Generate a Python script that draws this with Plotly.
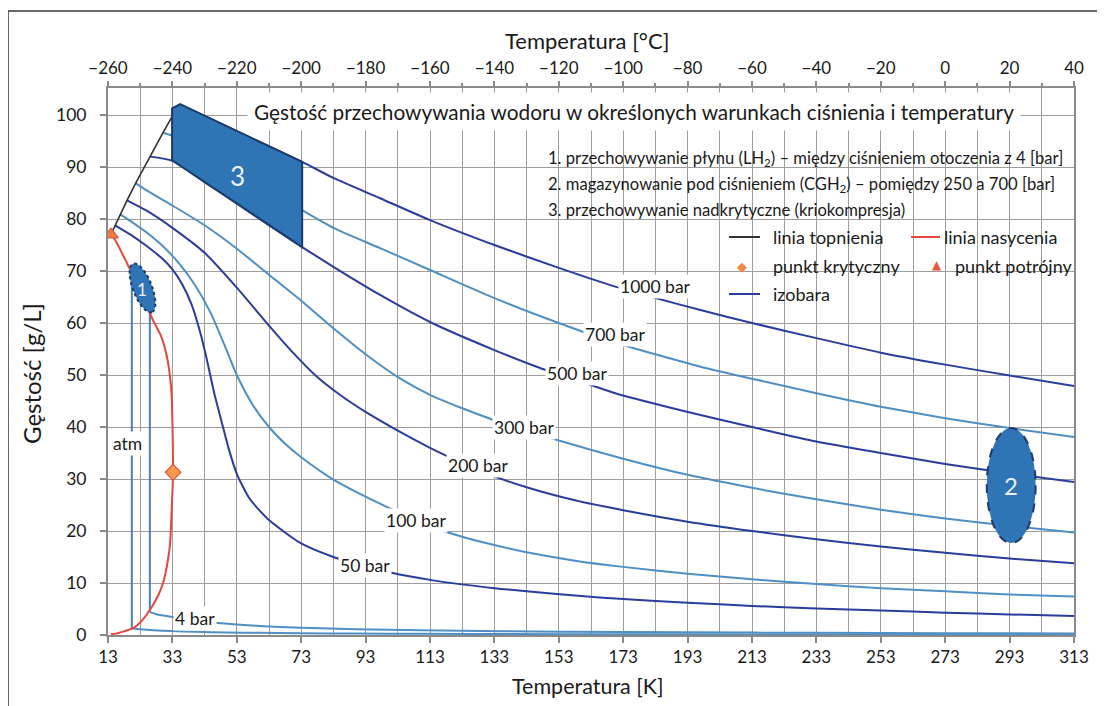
import math
import plotly.graph_objects as go

# ---------------- data ----------------
# isobars: temperature [K] and density [g/L]
T_1000 = [34.9, 45, 55, 65, 73.3, 83, 97.5, 113, 133, 153, 170, 183, 197, 213, 233, 253, 273, 293, 313]
R_1000 = [101.9, 99.2, 96.3, 93.4, 91.0, 87.9, 84.0, 79.8, 75.0, 70.6, 67.1, 64.8, 62.5, 60.0, 57.1, 54.3, 52.0, 49.9, 47.9]

T_700 = [30.1, 33, 43, 53, 63, 73.3, 83, 97.5, 113, 133, 153, 170, 197, 213, 233, 253, 273, 293, 313]
R_700 = [96.6, 96.0, 93.0, 89.5, 85.7, 81.7, 78.3, 74.4, 70.2, 64.8, 60.0, 56.3, 51.6, 49.3, 46.5, 43.9, 41.7, 39.8, 38.1]

T_500 = [26.0, 33, 43, 53, 63, 73.3, 83, 97.5, 113, 133, 147, 160, 170, 197, 213, 233, 253, 273, 293, 313]
R_500 = [92.0, 91.2, 87.1, 83.0, 78.8, 74.6, 70.8, 65.4, 60.2, 54.8, 51.4, 48.7, 46.6, 42.3, 40.0, 37.2, 35.0, 32.9, 31.1, 29.4]

T_300 = [21.6, 25, 33, 43, 53, 63, 73, 83, 93, 103.8, 113, 123, 131.7, 142, 153, 173, 193, 213, 233, 253, 273, 293, 313]
R_300 = [86.9, 85.5, 82.6, 78.8, 74.3, 69.3, 64.3, 59.0, 54.0, 49.3, 46.2, 43.6, 41.6, 39.5, 37.4, 33.9, 30.8, 28.3, 26.1, 24.1, 22.4, 21.0, 19.7]

T_200 = [18.9, 25, 33, 43, 53, 63, 70, 78, 85, 93, 103, 113, 117, 130, 143, 158, 173, 193, 213, 233, 253, 273, 293, 313]
R_200 = [83.6, 81.6, 78.3, 73.5, 66.8, 59.5, 54.6, 49.6, 46.2, 42.9, 39.3, 36.0, 34.8, 31.2, 28.4, 25.9, 24.0, 21.8, 20.0, 18.4, 17.0, 15.8, 14.7, 13.8]

T_100 = [16.8, 20, 25, 30, 35, 40, 45, 50, 53, 58, 63, 68, 73, 83, 93, 100, 111.5, 123, 133, 143, 158, 173, 193, 213, 233, 253, 273, 293, 313]
R_100 = [80.9, 79.6, 77.4, 74.8, 71.5, 67.3, 61.8, 54.5, 50.0, 44.2, 40.0, 36.8, 34.2, 29.9, 26.6, 24.5, 21.2, 18.9, 17.3, 15.9, 14.3, 13.1, 11.8, 10.7, 9.8, 9.0, 8.4, 7.8, 7.4]

T_50 = [15.2, 20, 25, 30, 33, 36, 39, 41.5, 43.5, 46, 48.5, 50.5, 53, 57, 63, 73, 83, 93, 100.7, 113, 133, 143, 158, 173, 193, 213, 233, 253, 273, 293, 313]
R_50 = [78.8, 77.0, 74.8, 72.3, 70.3, 67.5, 63.5, 58.5, 53.5, 46.5, 40.5, 35.8, 31.0, 26.2, 22.1, 17.6, 15.0, 13.2, 12.0, 10.6, 9.0, 8.4, 7.6, 6.9, 6.2, 5.6, 5.1, 4.7, 4.3, 3.95, 3.65]

# 4 bar: vertical drop (liquid -> vapour) then gas branch
T_4_drop = [26.0, 26.0]
R_4_drop = [62.5, 4.4]
T_4 = [26.0, 28, 33, 40, 47, 60, 73, 90, 110, 135, 173, 213, 253, 293, 313]
R_4 = [4.4, 4.0, 3.45, 2.8, 2.3, 1.75, 1.38, 1.1, 0.9, 0.72, 0.56, 0.46, 0.38, 0.33, 0.31]

# atmospheric pressure
T_atm_drop = [20.4, 20.4]
R_atm_drop = [70.2, 1.25]
T_atm = [20.4, 23, 27, 33, 40, 50, 60, 73, 90, 110, 140, 173, 213, 253, 293, 313]
R_atm = [1.25, 1.1, 0.92, 0.75, 0.62, 0.49, 0.41, 0.34, 0.27, 0.22, 0.18, 0.14, 0.116, 0.097, 0.084, 0.079]

# melting line
T_melt = [13.9, 15.2, 16.8, 18.9, 21.6, 26.0, 30.1, 34.9]
R_melt = [77.0, 78.8, 80.9, 83.6, 86.9, 92.0, 96.6, 101.9]

# saturation line (vapour branch -> critical point -> liquid branch)
T_sat = [13.9, 16, 18, 20.8, 23, 26, 28.5, 30.1, 31.5, 32.3, 32.9, 33.1, 33.2, 33.15, 33.0, 32.8, 32.3, 31.3, 29.5, 27, 23, 18.9, 15.2, 13.9]
R_sat = [0.13, 0.35, 0.7, 1.3, 2.4, 4.8, 7.5, 10.0, 14.0, 17.7, 26.0, 29.0, 31.3, 36.0, 41.0, 45.8, 49.5, 53.5, 57.5, 60.5, 66.3, 71.5, 76.0, 77.0]

T_crit, R_crit = [33.2], [31.3]
T_trip, R_trip = [13.9], [77.0]

# storage region 3 (supercritical / cryo-compressed)
T_reg3 = [32.9, 35.4, 73.3, 73.3, 32.9]
R_reg3 = [101.3, 102.1, 91.0, 74.6, 91.3]
# storage region 2 (compressed gas) – ellipse bounds
T_reg2 = [285.9, 301.1]
R_reg2 = [17.7, 39.8]

iso_names = ["1000 bar", "700 bar", "500 bar", "300 bar", "200 bar", "100 bar", "50 bar", "4 bar", "atm"]

x_ticks_K = list(range(13, 314, 20))
x_ticks_C = list(range(-260, 41, 20))
y_ticks = list(range(0, 101, 10))

# ---------------- geometry helpers ----------------
# pixel positions below are measured in the reference picture (page coords);
# the page body has an 8 px margin, so the figure itself is offset by 8 px.
OFF = 8
L_PX, T_PX, W_PX, H_PX = 108, 88, 966, 547
FIG_W, FIG_H = 1105 - OFF, 706 - OFF
X_RANGE = [13, 313]
Y_RANGE = [0, 105.2]


def k_of_px(px):
    return X_RANGE[0] + (px - L_PX) / W_PX * (X_RANGE[1] - X_RANGE[0])


def r_of_py(py):
    return Y_RANGE[0] + (T_PX + H_PX - py) / H_PX * (Y_RANGE[1] - Y_RANGE[0])


def xp(px):
    return (px - L_PX) / W_PX


def yp(py):
    return (T_PX + H_PX - py) / H_PX


DARK = "#2a3c9c"
LIGHT = "#4f8fc4"
REG_FILL = "#2f74b5"
REG_LINE = "#1d3b6a"
FONT = "Lato"
TXT = "#1a1a1a"

fig = go.Figure()

iso_series = [
    (T_1000, R_1000, DARK), (T_700, R_700, LIGHT), (T_500, R_500, DARK),
    (T_300, R_300, LIGHT), (T_200, R_200, DARK), (T_100, R_100, LIGHT),
    (T_50, R_50, DARK), (T_4, R_4, LIGHT), (T_atm, R_atm, LIGHT),
]
for tx, ry, col in iso_series:
    fig.add_trace(go.Scatter(x=tx, y=ry, mode="lines", hoverinfo="skip",
                             line=dict(color=col, width=2, shape="spline", smoothing=0.6)))
for tx, ry in [(T_4_drop, R_4_drop), (T_atm_drop, R_atm_drop)]:
    fig.add_trace(go.Scatter(x=tx, y=ry, mode="lines", hoverinfo="skip",
                             line=dict(color="#4a80b8", width=2)))

fig.add_trace(go.Scatter(x=T_melt, y=R_melt, mode="lines", hoverinfo="skip",
                         line=dict(color="#333333", width=1.6)))
fig.add_trace(go.Scatter(x=T_sat, y=R_sat, mode="lines", hoverinfo="skip",
                         line=dict(color="#e5473c", width=2, shape="spline", smoothing=0.5)))
fig.add_trace(go.Scatter(x=T_crit, y=R_crit, mode="markers", hoverinfo="skip",
                         marker=dict(symbol="diamond", size=12, color="#f39c4e",
                                     line=dict(color="#e0553a", width=1.2))))
fig.add_trace(go.Scatter(x=T_trip, y=R_trip, mode="markers", hoverinfo="skip",
                         marker=dict(symbol="triangle-up", size=13, color="#f07b45",
                                     line=dict(color="#e0553a", width=1.2))))
# carrier for the top (°C) axis
fig.add_trace(go.Scatter(x=x_ticks_C, y=[None] * len(x_ticks_C), xaxis="x2",
                         mode="lines", hoverinfo="skip", showlegend=False))

shapes = []
# white boxes behind the legend texts (between grid and traces)
shapes.append(dict(type="rect", xref="paper", yref="paper", layer="between",
                   x0=xp(522), x1=xp(1073), y0=yp(222), y1=yp(146),
                   fillcolor="white", line=dict(width=0)))
shapes.append(dict(type="rect", xref="paper", yref="paper", layer="between",
                   x0=xp(716), x1=xp(1073), y0=yp(306), y1=yp(222),
                   fillcolor="white", line=dict(width=0)))

# region 3 polygon
path3 = "M " + " L ".join(f"{t},{r}" for t, r in zip(T_reg3, R_reg3)) + " Z"
shapes.append(dict(type="path", xref="x", yref="y", path=path3, layer="above",
                   fillcolor=REG_FILL, line=dict(color=REG_LINE, width=2)))

# region 1 : tilted ellipse along the saturation line
cx, cy, a, b = 142.5, 288, 26, 9.5
ux, uy = 19, 49
n = math.hypot(ux, uy)
ux, uy = ux / n, uy / n
vx, vy = -uy, ux
pts = []
for i in range(48):
    th = 2 * math.pi * i / 48
    px = cx + a * math.cos(th) * ux + b * math.sin(th) * vx
    py = cy + a * math.cos(th) * uy + b * math.sin(th) * vy
    pts.append(f"{k_of_px(px):.3f},{r_of_py(py):.3f}")
path1 = "M " + " L ".join(pts) + " Z"
shapes.append(dict(type="path", xref="x", yref="y", path=path1, layer="above",
                   fillcolor=REG_FILL, line=dict(color=REG_LINE, width=2, dash="dot")))

# region 2 ellipse
shapes.append(dict(type="circle", xref="x", yref="y", layer="above",
                   x0=T_reg2[0], x1=T_reg2[1], y0=R_reg2[0], y1=R_reg2[1],
                   fillcolor=REG_FILL, line=dict(color=REG_LINE, width=2, dash="dash")))

# legend samples
shapes.append(dict(type="line", xref="paper", yref="paper", x0=xp(729), x1=xp(760),
                   y0=yp(237), y1=yp(237), line=dict(color="#333333", width=2)))
shapes.append(dict(type="line", xref="paper", yref="paper", x0=xp(911), x1=xp(940),
                   y0=yp(237), y1=yp(237), line=dict(color="#e5473c", width=2)))
shapes.append(dict(type="line", xref="paper", yref="paper", x0=xp(729), x1=xp(760),
                   y0=yp(294), y1=yp(294), line=dict(color=DARK, width=2)))

# outer frame
shapes.append(dict(type="rect", xref="paper", yref="paper", layer="above",
                   x0=xp(8), x1=xp(1115), y0=yp(715), y1=yp(11),
                   line=dict(color="#3a3a3a", width=1.5), fillcolor="rgba(0,0,0,0)"))


def pann(text, px, py, size, xanchor="center", **kw):
    return dict(text=text, xref="paper", yref="paper", x=xp(px), y=yp(py),
                xanchor=xanchor, yanchor="middle", showarrow=False,
                font=dict(family=kw.pop("family", FONT), size=size, color=kw.pop("color", TXT)), **kw)


ann = []
ann.append(pann("Gęstość przechowywania wodoru w określonych warunkach ciśnienia i temperatury",
                634, 112, 20.8, bgcolor="white", borderpad=6))
leg_lines = [
    "1. przechowywanie płynu (LH<sub>2</sub>) – między ciśnieniem otoczenia z 4 [bar]",
    "2. magazynowanie pod ciśnieniem (CGH<sub>2</sub>) – pomiędzy 250 a 700 [bar]",
    "3. przechowywanie nadkrytyczne (kriokompresja)",
]
for txt, py in zip(leg_lines, [158, 185, 210]):
    ann.append(pann(txt, 546, py, 16.6, xanchor="left"))
leg_items = [("linia topnienia", 771, 237), ("linia nasycenia", 942, 237),
             ("punkt krytyczny", 771, 266), ("punkt potrójny", 953, 266),
             ("izobara", 771, 294)]
for txt, px, py in leg_items:
    ann.append(pann(txt, px, py, 18, xanchor="left"))
ann.append(pann("◆", 742, 266, 13, family="DejaVu Sans", color="#f08a45"))
ann.append(pann("▲", 937, 265, 12, family="DejaVu Sans", color="#e8583a"))

# isobar labels (pixel positions in the reference)
label_px = [(655, 286), (615, 334), (577, 373), (524, 427), (478, 465),
            (416, 520), (365, 565), (195, 618), (127, 443)]
for name, (px, py) in zip(iso_names, label_px):
    ann.append(dict(text=name, x=k_of_px(px), y=r_of_py(py), xref="x", yref="y",
                    xanchor="center", yanchor="middle",
                    showarrow=False, bgcolor="white", borderpad=1,
                    font=dict(family=FONT, size=17.5, color=TXT)))

# region numbers
ann.append(dict(text="3", x=k_of_px(237), y=r_of_py(176), showarrow=False,
                xanchor="center", yanchor="middle",
                font=dict(family=FONT, size=26, color="#eaf1fa")))
ann.append(dict(text="2", x=(T_reg2[0] + T_reg2[1]) / 2, y=(R_reg2[0] + R_reg2[1]) / 2,
                xanchor="center", yanchor="middle",
                showarrow=False, font=dict(family=FONT, size=24, color="#eaf1fa")))
ann.append(dict(text="1", x=k_of_px(142), y=r_of_py(289), showarrow=False,
                xanchor="center", yanchor="middle",
                font=dict(family=FONT, size=17, color="#eaf1fa")))

# axis titles
ann.append(pann("Temperatura [°C]", 587, 40, 22))
ann.append(pann("Temperatura [K]", 588, 686, 21.5))
ann.append(pann("Gęstość [g/L]", 31, 374, 24, textangle=-90))

GRID = "#9d9d9d"
AX = "#8a8a8a"
fig.update_layout(
    width=FIG_W, height=FIG_H,
    margin=dict(l=L_PX - OFF, r=FIG_W - (L_PX - OFF) - W_PX, t=T_PX - OFF,
                b=FIG_H - (T_PX - OFF) - H_PX),
    paper_bgcolor="white", plot_bgcolor="white", showlegend=False,
    font=dict(family=FONT, color=TXT),
    shapes=shapes, annotations=ann,
    xaxis=dict(range=X_RANGE, tickmode="array", tickvals=x_ticks_K,
               showgrid=True, gridcolor=GRID, gridwidth=1.4,
               minor=dict(tick0=13, dtick=10, showgrid=True, gridcolor=GRID, gridwidth=1.4),
               showline=True, mirror=True, linecolor=AX, linewidth=2,
               ticks="outside", ticklen=6, tickcolor=AX, tickwidth=1.5,
               tickfont=dict(family=FONT, size=17, color=TXT), zeroline=False),
    yaxis=dict(range=Y_RANGE, tickmode="array", tickvals=y_ticks,
               showgrid=True, gridcolor=GRID, gridwidth=1.4,
               showline=True, mirror=True, linecolor=AX, linewidth=2,
               ticks="outside", ticklen=6, tickcolor=AX, tickwidth=1.5,
               ticklabelstandoff=10,
               tickfont=dict(family=FONT, size=17.5, color=TXT), zeroline=False),
    xaxis2=dict(overlaying="x", side="top", anchor="y",
                range=[-260, 40],
                tickmode="array", tickvals=x_ticks_C,
                minor=dict(tick0=-260, dtick=10, ticks="outside", ticklen=4, tickcolor=AX),
                ticks="outside", ticklen=6, tickcolor=AX, tickwidth=1.5,
                showgrid=False, showline=False, zeroline=False,
                tickfont=dict(family=FONT, size=17, color=TXT)),
)

fig.write_html("out.html")
